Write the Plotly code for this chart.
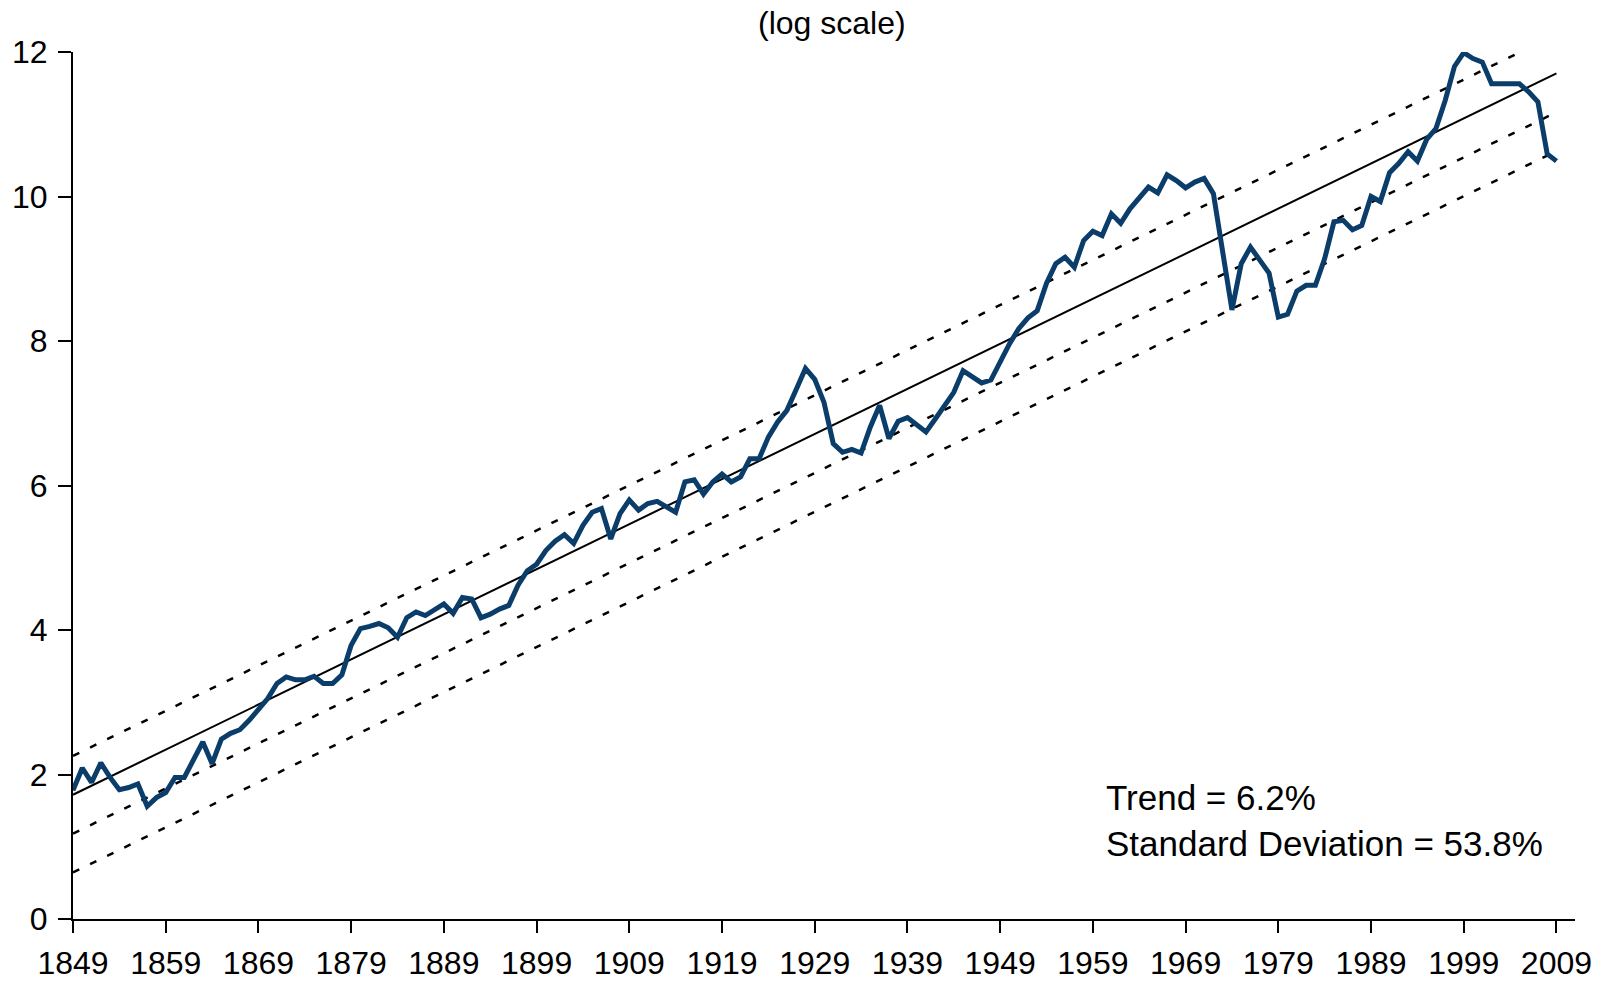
import plotly.graph_objects as go

# ── Data (log scale) ──────────────────────────────────────────────────────────
years = list(range(1849, 2010))

log_values = [
    1.78, 2.09, 1.89, 2.16, 1.96, 1.79, 1.82, 1.87, 1.56, 1.68,    # 1849-1858
    1.75, 1.96, 1.96, 2.21, 2.45, 2.15, 2.49, 2.57, 2.62, 2.75,    # 1859-1868
    2.91, 3.05, 3.26, 3.35, 3.31, 3.31, 3.36, 3.26, 3.26, 3.38,    # 1869-1878
    3.79, 4.02, 4.05, 4.09, 4.03, 3.90, 4.17, 4.25, 4.20, 4.28,    # 1879-1888
    4.36, 4.23, 4.45, 4.43, 4.17, 4.22, 4.29, 4.34, 4.62, 4.82,    # 1889-1898
    4.91, 5.10, 5.23, 5.32, 5.20, 5.45, 5.63, 5.68, 5.26, 5.61,    # 1899-1908
    5.80, 5.66, 5.75, 5.78, 5.71, 5.63, 6.05, 6.08, 5.88, 6.05,    # 1909-1918
    6.16, 6.05, 6.12, 6.37, 6.37, 6.67, 6.88, 7.04, 7.33, 7.62,    # 1919-1928
    7.47, 7.15, 6.58, 6.46, 6.50, 6.45, 6.81, 7.11, 6.65, 6.89,    # 1929-1938
    6.94, 6.85, 6.74, 6.92, 7.11, 7.29, 7.59, 7.50, 7.42, 7.46,    # 1939-1948
    7.72, 7.96, 8.17, 8.32, 8.42, 8.80, 9.07, 9.16, 9.02, 9.39,    # 1949-1958
    9.52, 9.46, 9.76, 9.63, 9.83, 9.99, 10.13, 10.05, 10.30, 10.22,  # 1959-1968
    10.12, 10.20, 10.25, 10.04, 9.25, 8.43, 9.07, 9.30, 9.12, 8.94,  # 1969-1978
    8.33, 8.37, 8.69, 8.77, 8.77, 9.14, 9.65, 9.67, 9.54, 9.60,    # 1979-1988
    10.00, 9.93, 10.33, 10.46, 10.62, 10.49, 10.79, 10.94, 11.33, 11.80,  # 1989-1998
    11.99, 11.91, 11.86, 11.56, 11.56, 11.56, 11.56, 11.45, 11.31, 10.59,  # 1999-2008
    10.49,                                                         # 2009
]

# fitted trend (log level in 1849 + annual growth) and its standard deviation
TREND_START = 1.72
TREND_GROWTH = 0.0624
TREND_SD = 0.538
band_multiples = [1, -1, -2]

x_ticks = list(range(1849, 2010, 10))
y_ticks = [0, 2, 4, 6, 8, 10, 12]

BLUE = "#0B3D6B"
FONT = "Liberation Sans, Arial, sans-serif"

trend = [TREND_START + TREND_GROWTH * (y - years[0]) for y in years]

fig = go.Figure()

# dotted bands around the trend
for m in band_multiples:
    fig.add_trace(go.Scatter(
        x=years, y=[t + m * TREND_SD for t in trend],
        mode="lines",
        line=dict(color="black", width=2.5, dash="7px,12px"),
        hoverinfo="skip",
    ))

# solid trend line
fig.add_trace(go.Scatter(
    x=years, y=trend,
    mode="lines",
    line=dict(color="black", width=2),
    hoverinfo="skip",
))

# actual series
fig.add_trace(go.Scatter(
    x=years, y=log_values,
    mode="lines",
    line=dict(color=BLUE, width=5),
    hovertemplate="%{x}: %{y:.2f}<extra></extra>",
))

fig.add_annotation(
    xref="paper", yref="paper", x=0.505, y=1.0,
    xanchor="center", yanchor="middle", yshift=29,
    text="(log scale)", showarrow=False,
    font=dict(size=32, color="black", family=FONT),
)
fig.add_annotation(
    xref="x", yref="y", x=1960.2, y=1.36,
    xanchor="left", yanchor="middle", align="left",
    text="Trend = 6.2%<br>Standard Deviation = 53.8%",
    showarrow=False,
    font=dict(size=35, color="black", family=FONT),
)

fig.update_layout(
    width=1601, height=982,
    margin=dict(l=73, r=26, t=52, b=63),
    plot_bgcolor="white", paper_bgcolor="white",
    showlegend=False,
    font=dict(family=FONT, size=32, color="black"),
    xaxis=dict(
        range=[1849, 2011], tickvals=x_ticks,
        showgrid=False, zeroline=False, automargin=False,
        showline=True, linecolor="black", linewidth=2,
        ticks="outside", ticklen=12, tickwidth=2, tickcolor="black",
        ticklabelstandoff=3,
    ),
    yaxis=dict(
        range=[0, 12], tickvals=y_ticks,
        showgrid=False, zeroline=False, automargin=False,
        showline=True, linecolor="black", linewidth=2,
        ticks="outside", ticklen=13, tickwidth=2, tickcolor="black",
        ticklabelstandoff=4,
    ),
)

# drop the page's default body margin so the figure sits at the window origin
fig.write_html(
    "out.html",
    config={"displayModeBar": False},
    post_script="document.body.style.margin='0';",
)
